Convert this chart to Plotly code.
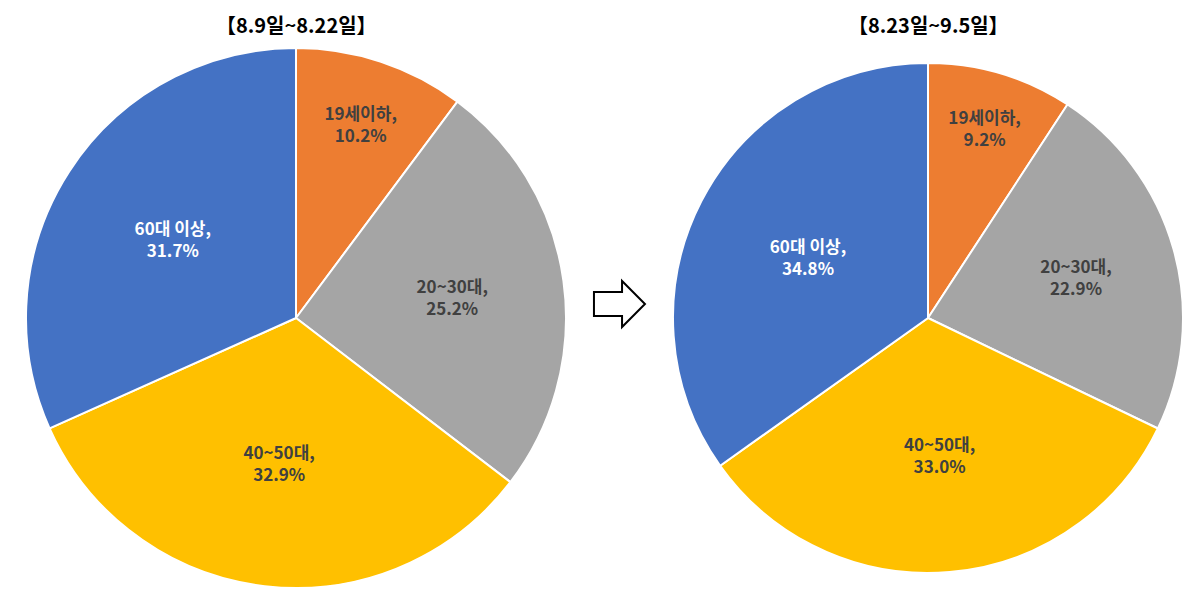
import plotly.graph_objects as go

labels = ["19세이하", "20~30대", "40~50대", "60대 이상"]
period1 = [10.2, 25.2, 32.9, 31.7]
period2 = [9.2, 22.9, 33.0, 34.8]
titles = ["【8.9일~8.22일】", "【8.23일~9.5일】"]

colors = ["#ed7d31", "#a5a5a5", "#ffc000", "#4472c4"]
text_colors = ["#404040", "#404040", "#404040", "white"]

fig = go.Figure()
doms = [([8 / 1200, 568 / 1200], [11 / 591, 551 / 591]),
        ([665 / 1200, 1175 / 1200], [16 / 591, 546 / 591])]
for vals, (dx, dy) in zip([period1, period2], doms):
    fig.add_trace(go.Pie(
        labels=labels, values=vals, sort=False, direction="clockwise", rotation=0,
        marker=dict(colors=colors, line=dict(color="white", width=2)),
        texttemplate="<b>%{label},<br>%{value:.1f}%</b>",
        textposition="inside", insidetextorientation="horizontal",
        textfont=dict(size=17, color=text_colors, family="Noto Sans CJK KR"),
        hoverinfo="label+value",
        domain=dict(x=dx, y=dy),
    ))

for t, x in zip(titles, [0.24, 0.767]):
    fig.add_annotation(text="<b>" + t + "</b>", x=x, y=1.0, xref="paper", yref="paper",
                       xanchor="center", yanchor="top", showarrow=False,
                       font=dict(size=20, color="black", family="Noto Sans CJK KR"))

# arrow between the pies (pixel coordinates mapped to paper)
def px(x, y):
    return f"{x/1200:.4f} {1 - y/591:.4f}"
path = ("M " + px(586, 284) + " L " + px(614, 284) + " L " + px(614, 273) + " L " + px(637, 296)
        + " L " + px(614, 319) + " L " + px(614, 308) + " L " + px(586, 308) + " Z")
fig.add_shape(type="path", path=path, xref="paper", yref="paper",
              line=dict(color="black", width=2), fillcolor="white")

fig.update_layout(width=1200, height=591, showlegend=False,
                  margin=dict(l=0, r=0, t=0, b=0),
                  paper_bgcolor="white", plot_bgcolor="white")
fig.write_html("out.html")
